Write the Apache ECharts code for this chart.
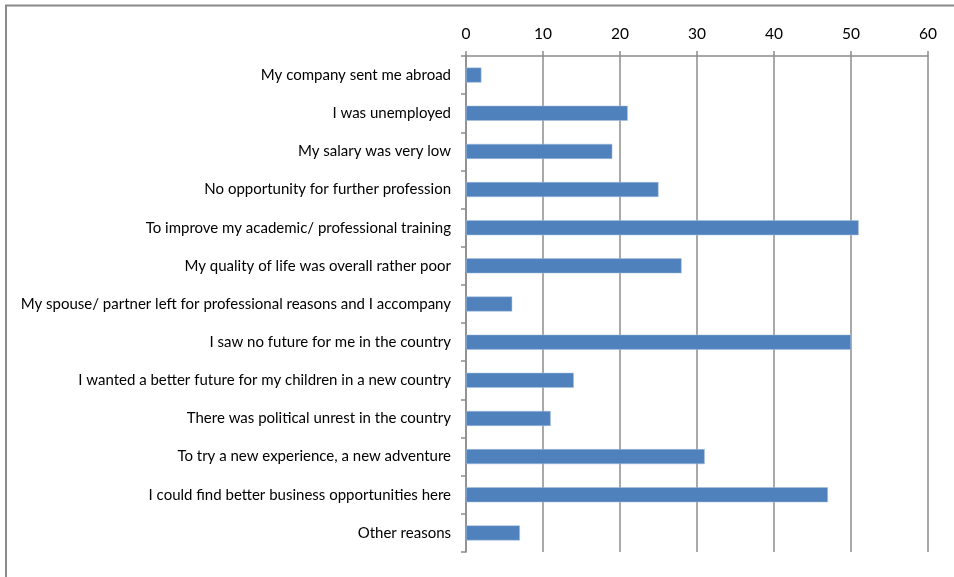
<!DOCTYPE html>
<html>
<head>
<meta charset="utf-8">
<script src="https://cdn.jsdelivr.net/npm/echarts@6/dist/echarts.min.js"></script>
<style>
  html, body { margin: 0; padding: 0; background: #fff; }
  #chart { width: 954px; height: 577px; }
</style>
</head>
<body>
<div id="chart"></div>
<script>
// reasons, top to bottom as in the picture
var reasons = [
    'My company sent me abroad',
    'I was unemployed',
    'My salary was very low',
    'No opportunity for further profession',
    'To improve my academic/ professional training',
    'My quality of life was overall rather poor',
    'My spouse/ partner left for professional reasons and I accompany',
    'I saw no future for me in the country',
    'I wanted a better future for my children in a new country',
    'There was political unrest in the country',
    'To try a new experience, a new adventure',
    'I could find better business opportunities here',
    'Other reasons'
];
var counts = [2, 21, 19, 25, 51, 28, 6, 50, 14, 11, 31, 47, 7];
var xTicks = [0, 10, 20, 30, 40, 50, 60];

var gridGray = '#8c8c8c';
var fontName = 'Lato';

var chart = echarts.init(document.getElementById('chart'));

chart.setOption({
    animation: false,
    graphic: [{
        // outer frame, runs off the right and bottom edges
        type: 'polyline',
        shape: { points: [[6, 580], [6, 5.5], [960, 5.5]] },
        style: { stroke: '#8a8a8a', lineWidth: 2, fill: null },
        silent: true
    }],
    grid: {
        left: 466,
        right: 26,
        top: 56,
        bottom: 25
    },
    xAxis: {
        type: 'value',
        position: 'top',
        min: xTicks[0],
        max: xTicks[xTicks.length - 1],
        interval: 10,
        axisLine: { show: true, lineStyle: { color: gridGray, width: 1.5 } },
        axisTick: { show: true, length: 5, lineStyle: { color: gridGray, width: 1.5 } },
        axisLabel: { color: '#000', fontSize: 15.5, fontFamily: fontName, margin: 14 },
        splitLine: { show: true, lineStyle: { color: gridGray, width: 1.5 } }
    },
    yAxis: {
        type: 'category',
        inverse: true,
        data: reasons,
        axisLine: { show: true, lineStyle: { color: gridGray, width: 1.5 } },
        axisTick: { show: true, length: 5, lineStyle: { color: gridGray, width: 1.5 } },
        axisLabel: { color: '#000', fontSize: 15, fontFamily: fontName, margin: 15 },
        splitLine: { show: false }
    },
    series: [{
        type: 'bar',
        data: counts,
        barWidth: 15,
        itemStyle: { color: '#4f81bd', borderColor: '#a9c1df', borderWidth: 0.5 }
    }]
});
</script>
</body>
</html>
